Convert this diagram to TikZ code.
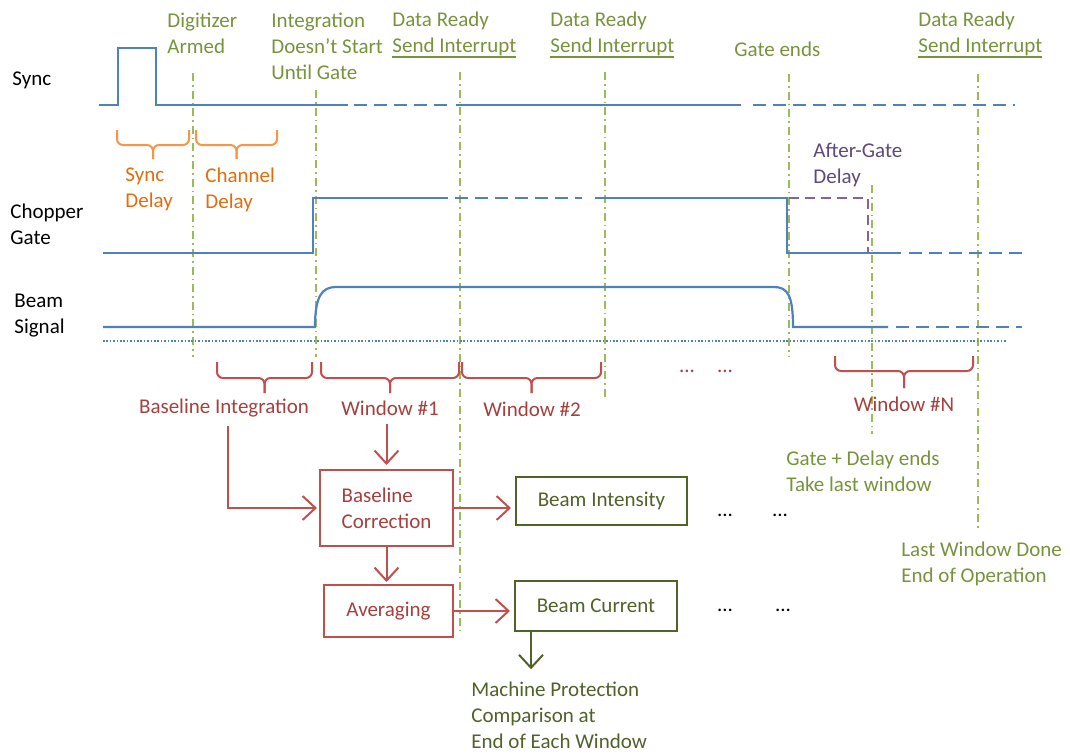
\documentclass[tikz,border=0pt]{standalone}
\usepackage{fontspec}
\setmainfont{Carlito}
\usetikzlibrary{arrows.meta,positioning}

\definecolor{sigblue}{HTML}{4F81BD}
\definecolor{trgreen}{HTML}{9BBB59}
\definecolor{txgreen}{HTML}{77933C}
\definecolor{dkgreen}{HTML}{4F6228}
\definecolor{orline}{HTML}{F79646}
\definecolor{ortext}{HTML}{E46C0A}
\definecolor{rdline}{HTML}{C0504D}
\definecolor{rdtext}{HTML}{A5403D}
\definecolor{puline}{HTML}{8064A2}
\definecolor{putext}{HTML}{5F497A}

% thick underline
\newcommand{\thickul}[1]{\vtop{\hbox{#1}\kern0.4pt\hrule height 1.1pt}}
% brace under a time span: style, x1, x2, top, line, tip
\newcommand{\spanbrace}[6]{%
  \draw[#1,rounded corners=3pt] (#2,#4) -- (#2,#5) -- ({(#2+#3)/2},#5) -- ({(#2+#3)/2},#6);
  \draw[#1,rounded corners=3pt] (#3,#4) -- (#3,#5) -- ({(#2+#3)/2},#5) -- ({(#2+#3)/2},#6);}

\begin{document}
\begin{tikzpicture}
[x=0.5pt,y=-0.5pt,>={Straight Barb[length=6.5pt,width=12pt]},
 font=\fontsize{10.5}{13}\selectfont]
\tikzstyle{sig}=[sigblue,line width=1.1pt]
\tikzstyle{sigdash}=[sig,dash pattern=on 6.5pt off 3.5pt]
\tikzstyle{sigdot}=[sigblue,line width=1pt,dash pattern=on 0.8pt off 0.9pt]
\tikzstyle{trig}=[trgreen,line width=1.1pt,dash pattern=on 4pt off 2pt on 0.8pt off 2pt]
\tikzstyle{lbl}=[anchor=west,inner sep=0pt,align=left]
\tikzstyle{gtext}=[lbl,text=txgreen]
\tikzstyle{rtext}=[inner sep=0pt,text=rdtext]
\tikzstyle{rbox}=[draw=rdline,line width=1pt,text=rdtext,align=left]
\tikzstyle{gbox}=[draw=dkgreen,line width=1pt,text=dkgreen]
\tikzstyle{rarrow}=[->,rdline,line width=1pt]
\tikzstyle{garrow}=[->,dkgreen,line width=1pt]

\useasboundingbox (0,0) rectangle (1070,755);

% signal names
\node[lbl] (sync) at (12,80) {Sync};
\node[lbl] (chopper) at (10,224) {Chopper\\Gate};
\node[lbl] (beam) at (14,316) {Beam\\Signal};

% event labels
\node[gtext] (armed) at (167,33) {Digitizer\\Armed};
\node[gtext] (integ) at (271,46) {Integration\\Doesn’t Start\\Until Gate};
\node[gtext] (ready1) at (392,35) {Data Ready\\\thickul{Send Interrupt}};
\node[gtext] (ready2) at (550,35) {Data Ready\\\thickul{Send Interrupt}};
\node[gtext] (gateend) at (734,49) {Gate ends};
\node[gtext] (ready3) at (918,35) {Data Ready\\\thickul{Send Interrupt}};
\node[lbl,text=putext] (aftergate) at (813,165) {After-Gate\\Delay};
\node[lbl,text=ortext] (syncdel) at (125,189) {Sync\\Delay};
\node[lbl,text=ortext] (chandel) at (205,190) {Channel\\Delay};
\node[gtext] (gdend) at (786,471) {Gate + Delay ends\\Take last window};
\node[gtext] (lastwin) at (901,564) {Last Window Done\\End of Operation};

% trigger markers
\draw[trig] (193,73) -- (193,357);
\draw[trig] (316,90) -- (316,357);
\draw[trig] (460,72) -- (460,632);
\draw[trig] (605,72) -- (605,398);
\draw[trig] (789,74) -- (789,356);
\draw[trig] (872,185) -- (872,434);
\draw[trig] (978,74) -- (978,530);

% sync
\draw[sig] (99,105) -- (118,105) -- (118,48) -- (156,48) -- (156,105) -- (348,105);
\draw[sigdash] (354,105) -- (450,105);
\draw[sig] (456,105) -- (741,105);
\draw[sigdash] (753,105) -- (1015,105);

% chopper gate
\draw[sig] (103,253) -- (313,253) -- (313,198) -- (448,198);
\draw[sigdash] (455,198) -- (582,198);
\draw[sig] (595,198) -- (787,198) -- (787,253) -- (901,253);
\draw[sigdash] (909,253) -- (1023,253);
\draw[puline,line width=1.1pt,dash pattern=on 5pt off 3pt] (789,198) -- (868,198) -- (868,253);

% beam signal
\draw[sig] (103,327) -- (315,327) .. controls (315,296) and (322,287) .. (336,287)
  -- (774,287) .. controls (788,287) and (793,296) .. (793,327) -- (888,327);
\draw[sigdash] (896,327) -- (1022,327);
\draw[sigdot] (103,341) -- (1006,341);

% braces
\spanbrace{orline,line width=1pt}{117}{189}{130}{145}{159}
\spanbrace{orline,line width=1pt}{196}{277}{130}{145}{159}
\spanbrace{rdline,line width=1pt}{217}{312}{362}{378}{393}
\spanbrace{rdline,line width=1pt}{321}{459}{362}{378}{393}
\spanbrace{rdline,line width=1pt}{462}{601}{362}{378}{393}
\spanbrace{rdline,line width=1pt}{835}{973}{356}{371}{388}

% windows
\node[rtext] (bint) at (224,408) {Baseline Integration};
\node[rtext] (win1) at (390,408) {Window \#1};
\node[rtext] (win2) at (532,409) {Window \#2};
\node[rtext] (winN) at (904,404) {Window \#N};
\node[rtext] (dots1) at (687,371) {...};
\node[rtext] (dots2) at (725,371) {...};

% processing
\node[rbox,minimum width=66.5pt,minimum height=38pt] (bc) at (386.5,508) {Baseline\\Correction};
\node[gbox,minimum width=85.5pt,minimum height=24pt] (bi) at (601.5,501) {Beam Intensity};
\node[rbox,minimum width=64.5pt,minimum height=26pt] (avg) at (388.5,611) {Averaging};
\node[gbox,minimum width=81pt,minimum height=25pt] (bcur) at (596,606) {Beam Current};
\node[lbl,text=dkgreen] (mp) at (471,715) {Machine Protection\\Comparison at\\End of Each Window};
\node (bidots1) at (725,515) {...};
\node (bidots2) at (780,515) {...};
\node (bcdots1) at (725,610) {...};
\node (bcdots2) at (783,610) {...};

\draw[rarrow,shorten <=4pt,shorten >=2pt] (bc.north |- win1.south) -- (bc.north);
\draw[rarrow,shorten >=1pt] ([xshift=2pt,yshift=-4pt]bint.south) |- (bc.west);
\draw[rarrow,shorten >=2pt] (bc.east) -- (bc.east -| bi.west);
\draw[rarrow,shorten >=1pt] (bc.south -| avg.north) ++(-2,0) -- ([xshift=-1pt]avg.north);
\draw[rarrow,shorten >=2pt] (avg.east) -- (avg.east -| bcur.west);
\draw[garrow,shorten >=6pt] ([xshift=8.5pt]bcur.south west) -- ([xshift=8.5pt]bcur.south west |- mp.north);
\end{tikzpicture}
\end{document}
